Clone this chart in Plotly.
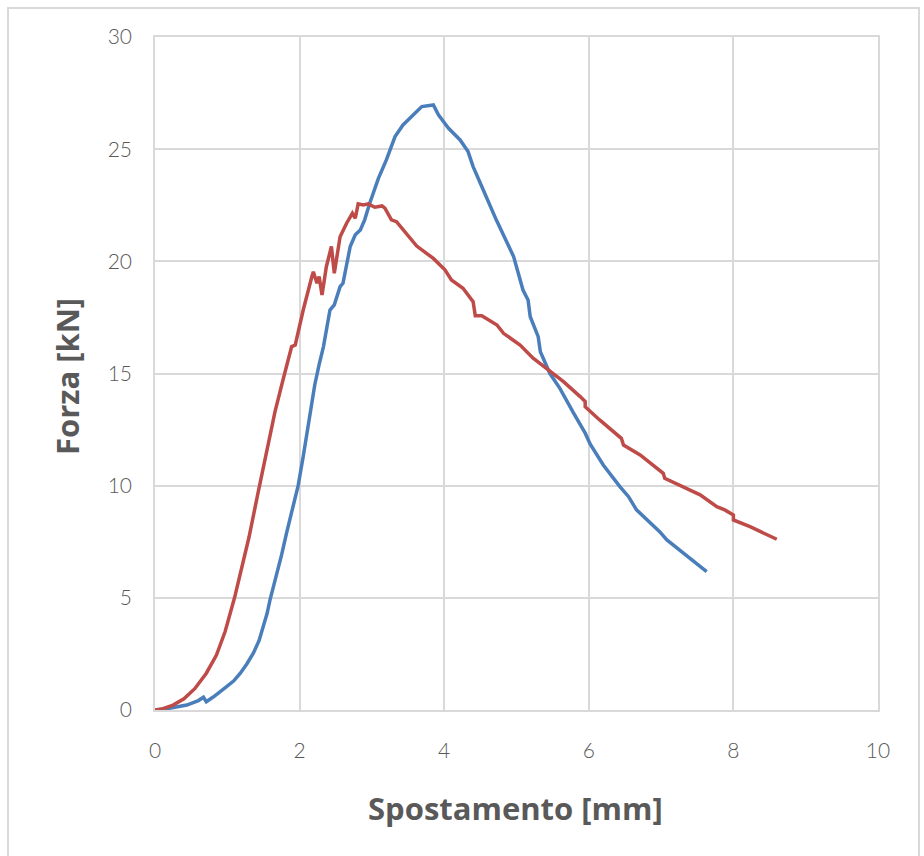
import plotly.graph_objects as go

# Blue series (displacement mm, force kN)
blue_x = [0.0, 0.20, 0.44, 0.60, 0.67, 0.71, 0.81, 0.90, 0.99, 1.09, 1.18, 1.27, 1.36, 1.44, 1.50, 1.55, 1.59,
          1.64, 1.68, 1.75, 1.82, 1.90, 1.98, 2.05, 2.12, 2.21, 2.27, 2.33, 2.42, 2.48, 2.56, 2.60, 2.70, 2.77,
          2.84, 2.90, 2.97, 3.09, 3.20, 3.32, 3.43, 3.55, 3.69, 3.85, 3.92, 4.06, 4.22, 4.33, 4.40, 4.50, 4.72,
          4.96, 5.09, 5.16, 5.19, 5.30, 5.33, 5.46, 5.60, 5.79, 5.95, 6.02, 6.20, 6.43, 6.55, 6.66, 6.98, 7.08,
          7.31, 7.49, 7.63]
blue_y = [0.0, 0.08, 0.22, 0.42, 0.57, 0.37, 0.59, 0.80, 1.04, 1.30, 1.64, 2.05, 2.53, 3.10, 3.71, 4.30, 4.90,
          5.50, 6.09, 6.90, 7.90, 8.90, 10.0, 11.3, 12.7, 14.5, 15.4, 16.2, 17.83, 18.06, 18.87, 19.02, 20.66,
          21.18, 21.40, 21.85, 22.59, 23.7, 24.52, 25.56, 26.08, 26.45, 26.9, 26.97, 26.53, 25.93, 25.41, 24.89,
          24.22, 23.48, 21.85, 20.21, 18.72, 18.28, 17.53, 16.64, 15.97, 15.01, 14.34, 13.23, 12.34, 11.85, 10.92,
          9.96, 9.51, 8.92, 7.95, 7.58, 6.99, 6.54, 6.17]

# Red series
red_x = [0.0, 0.10, 0.25, 0.40, 0.55, 0.71, 0.85, 0.97, 1.10, 1.20, 1.30, 1.42, 1.55, 1.66, 1.77, 1.85, 1.89,
         1.94, 2.05, 2.17, 2.19, 2.24, 2.27, 2.31, 2.37, 2.44, 2.48, 2.56, 2.65, 2.73, 2.77, 2.81, 2.88, 2.95,
         3.04, 3.14, 3.18, 3.27, 3.34, 3.62, 3.85, 4.01, 4.10, 4.26, 4.40, 4.43, 4.52, 4.73, 4.82, 5.05, 5.23,
         5.44, 5.65, 5.88, 5.95, 5.95, 6.15, 6.45, 6.48, 6.71, 7.03, 7.05, 7.31, 7.54, 7.77, 7.88, 8.00, 8.00,
         8.23, 8.60]
red_y = [0.0, 0.05, 0.22, 0.50, 0.95, 1.64, 2.45, 3.50, 5.00, 6.30, 7.70, 9.60, 11.6, 13.3, 14.71, 15.8, 16.2,
         16.27, 17.83, 19.32, 19.54, 19.02, 19.32, 18.50, 19.76, 20.66, 19.47, 21.1, 21.7, 22.14, 21.92, 22.56,
         22.51, 22.56, 22.41, 22.47, 22.37, 21.85, 21.77, 20.68, 20.13, 19.62, 19.17, 18.80, 18.2, 17.57, 17.57,
         17.16, 16.79, 16.27, 15.68, 15.16, 14.64, 13.97, 13.75, 13.52, 12.93, 12.11, 11.81, 11.37, 10.55, 10.33,
         9.96, 9.59, 9.06, 8.92, 8.69, 8.47, 8.17, 7.61]

x_ticks = [0, 2, 4, 6, 8, 10]
y_ticks = [0, 5, 10, 15, 20, 25, 30]
x_title = "Spostamento [mm]"
y_title = "Forza [kN]"

fig = go.Figure()
fig.add_trace(go.Scatter(x=blue_x, y=blue_y, mode="lines",
                         line=dict(color="#4a7ebb", width=3.5), showlegend=False))
fig.add_trace(go.Scatter(x=red_x, y=red_y, mode="lines",
                         line=dict(color="#be4b48", width=3.5), showlegend=False))

L, R, T, B = 155, 878, 37, 710
W, H = 924, 856
fig.update_layout(
    width=W, height=H,
    margin=dict(l=L, r=W - R, t=T, b=H - B),
    plot_bgcolor="white", paper_bgcolor="white",
    font=dict(family="Lato", color="#595959"),
)
fig.update_xaxes(range=[0, 10], tickvals=x_ticks, showgrid=True, gridcolor="#d9d9d9", gridwidth=1.5,
                 showline=True, linecolor="#d9d9d9", linewidth=1.5, mirror=True, zeroline=False,
                 tickfont=dict(size=21, color="#595959", weight=300), ticks="", ticklabelstandoff=21)
fig.update_yaxes(range=[0, 30], tickvals=y_ticks, showgrid=True, gridcolor="#d9d9d9", gridwidth=1.5,
                 showline=True, linecolor="#d9d9d9", linewidth=1.5, mirror=True, zeroline=False,
                 tickfont=dict(size=21, color="#595959", weight=300), ticks="", ticklabelstandoff=17)

pw, ph = R - L, B - T
def px(x):
    return (x - L) / pw
def py(y):
    return (B - y) / ph

title_font = dict(size=31, color="#595959", family="Open Sans", weight="bold")
fig.add_annotation(text=x_title, x=px(515), y=py(808), xref="paper", yref="paper",
                   showarrow=False, font=title_font, xanchor="center", yanchor="middle")
fig.add_annotation(text=y_title, x=px(67), y=py(377), xref="paper", yref="paper", textangle=-90,
                   showarrow=False, font=title_font, xanchor="center", yanchor="middle")

fig.add_shape(type="rect", xref="paper", yref="paper",
              x0=px(8), x1=px(919), y0=py(880), y1=py(8),
              line=dict(color="#d9d9d9", width=2), fillcolor="rgba(0,0,0,0)", layer="below")

fig.write_html("out.html")
